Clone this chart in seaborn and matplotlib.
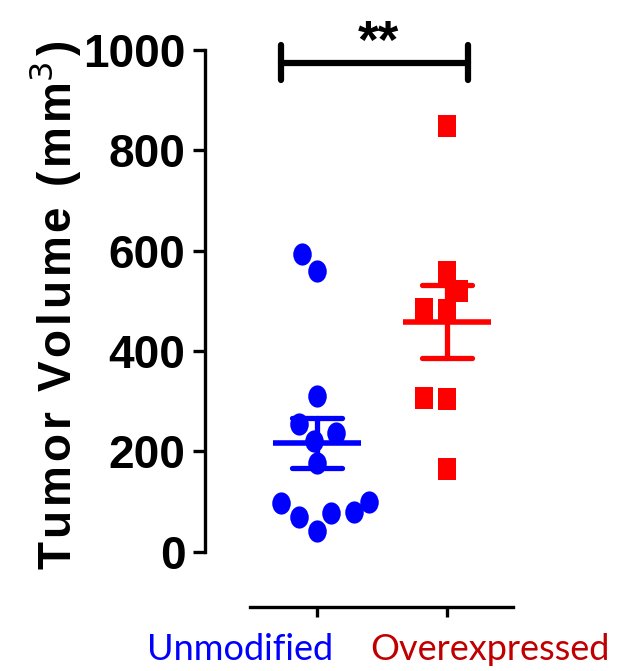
import numpy as np
import pandas as pd
import matplotlib
matplotlib.use('Agg')
import matplotlib.pyplot as plt
import matplotlib.transforms as mtransforms
from matplotlib.path import Path
import seaborn as sns

# ---- data (tumor volume, mm^3) ----
groups = ['Unmodified', 'Overexpressed']
unmodified = [594, 560, 311, 255, 237, 221, 177, 100, 98, 80, 78, 70, 42]
overexpressed = [849, 558, 520, 484, 482, 307, 305, 165]
yticks = [0, 200, 400, 600, 800, 1000]
sig_label = '**'

point_colors = ['#0000FF', '#FF0000']
label_colors = ['#0000FF', '#C00000']

df = pd.DataFrame({
    'group': ['Unmodified'] * len(unmodified) + ['Overexpressed'] * len(overexpressed),
    'volume': unmodified + overexpressed,
})

sns.set_style('white')
plt.rcParams['font.family'] = ['Liberation Sans', 'DejaVu Sans']
plt.rcParams['text.color'] = 'black'
plt.rcParams['axes.labelcolor'] = 'black'
plt.rcParams['xtick.color'] = 'black'
plt.rcParams['ytick.color'] = 'black'

fig = plt.figure(figsize=(6.28, 6.71), dpi=100)
ax = fig.add_axes([205 / 628, 1 - 607 / 671, 315 / 628, 557 / 671])

# markers slightly taller than wide, like the original
ellipse = Path.unit_circle().transformed(mtransforms.Affine2D().scale(1, 1.2))
rect = Path([(-1, -1.2), (1, -1.2), (1, 1.2), (-1, 1.2), (-1, -1.2)], closed=True)
shapes = [ellipse, rect]

for g, c, m in zip(groups, point_colors, shapes):
    sns.swarmplot(data=df[df.group == g], x='group', y='volume', order=groups,
                  color=c, marker=m, size=16, linewidth=0, ax=ax, zorder=3)

# mean +/- SEM
sns.pointplot(data=df, x='group', y='volume', hue='group', order=groups,
              hue_order=groups, palette=point_colors, errorbar='se',
              capsize=0.38, markers='_', linestyles='none', markersize=64,
              markeredgewidth=4, err_kws={'linewidth': 3.8}, legend=False,
              ax=ax, zorder=4)

ax.set_xlim(-0.862, 1.562)
ax.set_ylim(-110, 1000)
ax.set_yticks(yticks)
ax.set_yticklabels([str(t) for t in yticks], fontsize=33, fontweight='bold')
ax.set_xticks([0, 1])
ax.set_xticklabels(groups, fontsize=26, family=['Lato', 'DejaVu Sans'])
ax.set_xlabel('')
ylab = '\u200a'.join('Tumor Volume (mm') + '$^3$\u200a)'
ax.set_ylabel(ylab, fontsize=33, fontweight='bold')
ax.yaxis.set_label_coords(-0.475, 0.542)
ax.yaxis.label.set_va('center')

for sp in ['top', 'right']:
    ax.spines[sp].set_visible(False)
ax.spines['left'].set_bounds(0, 1000)
ax.spines['bottom'].set_bounds(-0.515, 1.508)
for sp in ['left', 'bottom']:
    ax.spines[sp].set_linewidth(2.4)
    ax.spines[sp].set_color('black')
ax.tick_params(axis='y', length=9, width=2.4, pad=5, color='black', left=True)
ax.tick_params(axis='x', length=7, width=2.4, pad=12, color='black', bottom=True)
ax.grid(False)

shifts = [-77, 43]
for lab, col, dx in zip(ax.get_xticklabels(), label_colors, shifts):
    lab.set_color(col)
    lab.set_transform(lab.get_transform() +
                      mtransforms.ScaledTranslation(dx / 100, 0, fig.dpi_scale_trans))

# significance bar
ax.plot([-0.275, 1.165], [975, 975], color='black', lw=4.5, clip_on=False,
        solid_capstyle='round')
for xx in [-0.275, 1.165]:
    ax.plot([xx, xx], [940, 1010], color='black', lw=4.5, clip_on=False,
            solid_capstyle='round')
ax.text(0.47, 1012, sig_label, ha='center', va='center', fontsize=38,
        fontweight='bold', clip_on=False)

fig.savefig('out.png', dpi=100)
